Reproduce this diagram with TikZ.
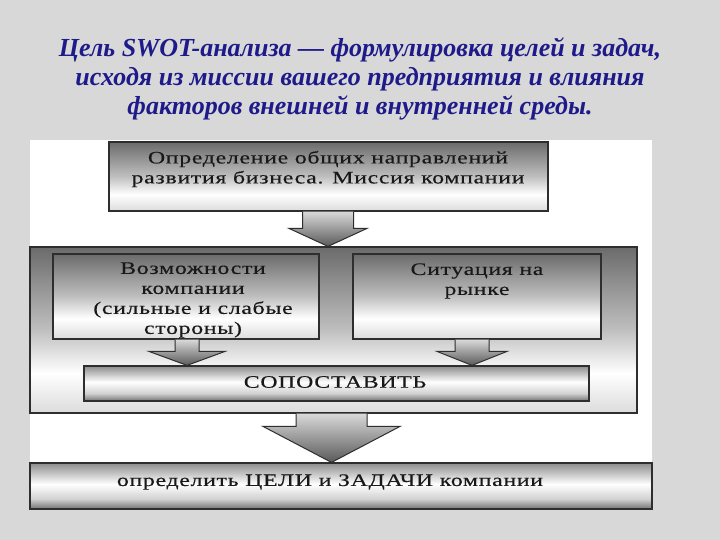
\documentclass[tikz,border=0pt]{standalone}
\usepackage{fontspec}
\setmainfont{Liberation Serif}
\newfontfamily\boxfont[FakeStretch=1.36,LetterSpace=4,FakeBold=0.4]{Liberation Serif}
\usetikzlibrary{calc}

\definecolor{marble}{HTML}{D8D8D8}
\definecolor{titleblue}{HTML}{1E1A8A}
\definecolor{boxline}{HTML}{2E2E2E}

\pgfdeclareverticalshading{panelshade}{100bp}{color(0bp)=(black!14); color(25bp)=(black!14); color(37bp)=(white); color(50bp)=(black!25); color(75bp)=(black!58); color(100bp)=(black!58)}
\pgfdeclareverticalshading{barshade}{100bp}{color(0bp)=(black!55); color(25bp)=(black!55); color(36bp)=(black!18); color(52bp)=(white); color(75bp)=(black!45); color(100bp)=(black!45)}

\tikzset{
  panelbox/.style={draw=boxline, line width=1.2pt, shading=panelshade, inner sep=0pt},
  barbox/.style={draw=boxline, line width=1.2pt, shading=barshade, inner sep=0pt},
  boxtext/.style={font=\boxfont\fontsize{17.5}{20}\selectfont, text=black!90, align=center, inner sep=0pt},
  flowarrowstyle/.style={draw=boxline, line width=1pt, top color=black!15, bottom color=black!65}
}

% block arrow from the upper box down to the lower one
\newcommand{\flowarrow}[5]{%
  \path[flowarrowstyle] let \p1=(#1), \p2=(#2) in
    (\x1-#3,\y1) -- (\x1-#3,\y2+#5) -- (\x1-#4,\y2+#5) -- (\x1,\y2)
    -- (\x1+#4,\y2+#5) -- (\x1+#3,\y2+#5) -- (\x1+#3,\y1);}

\begin{document}
\begin{tikzpicture}[x=1pt,y=-1pt]
\useasboundingbox (0,0) rectangle (720,540);
\fill[marble] (0,0) rectangle (720,540);

\node[font=\bfseries\itshape\fontsize{26}{29}\selectfont, text=titleblue, align=center, inner sep=0pt] (title) at (360,79)
  {Цель SWOT-анализа — формулировка целей и задач,\\исходя из миссии вашего предприятия и влияния\\факторов внешней и внутренней среды.};

\fill[white] (30,140) rectangle (652,509);

\node[panelbox, minimum width=439, minimum height=69] (mission) at (328.5,176.5) {};
\node[panelbox, minimum width=607, minimum height=166] (factors) at (333.5,330) {};
\node[panelbox, minimum width=266, minimum height=85] (strengths) at (186,296.5) {};
\node[panelbox, minimum width=248, minimum height=85] (market) at (477,296.5) {};
\node[barbox, minimum width=505, minimum height=35] (compare) at (336.5,383.5) {};
\node[barbox, minimum width=622, minimum height=46] (goals) at (341,486) {};

\node[boxtext] (missiontext) at (328,169) {Определение общих направлений\\развития бизнеса. Миссия компании};
\node[boxtext] (strengthstext) at (193,300) {Возможности\\компании\\(сильные и слабые\\стороны)};
\node[boxtext] (markettext) at (477,281) {Ситуация на\\рынке};
\node[boxtext] (comparetext) at (335,382) {СОПОСТАВИТЬ};
\node[boxtext] (goalstext) at (330,482) {определить ЦЕЛИ и ЗАДАЧИ компании};

\flowarrow{[xshift=-0.5pt]mission.south}{factors.north}{25.5pt}{39pt}{18pt}
\flowarrow{[xshift=1pt]strengths.south}{compare.north}{12pt}{38pt}{14pt}
\flowarrow{[xshift=-5pt]market.south}{compare.north}{17pt}{35pt}{14pt}
\flowarrow{[xshift=-2pt]factors.south}{goals.north}{35.5pt}{68.5pt}{36pt}
\end{tikzpicture}
\end{document}
